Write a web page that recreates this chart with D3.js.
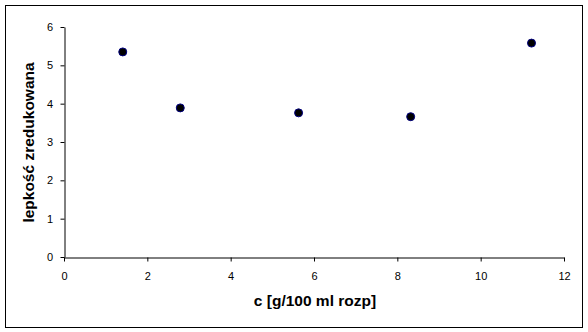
<!DOCTYPE html>
<html><head><meta charset="utf-8">
<script src="https://cdn.jsdelivr.net/npm/d3@7"></script>
<style>body{margin:0;background:#fff}svg{display:block}</style>
</head><body>
<svg id="c" width="588" height="332"></svg>
<script>
const xValues = [1.41, 2.79, 5.63, 8.32, 11.22];
const yValues = [5.35, 3.89, 3.76, 3.66, 5.58];
const xTicks = [0, 2, 4, 6, 8, 10, 12];
const yTicks = [0, 1, 2, 3, 4, 5, 6];
const xTitle = "c [g/100 ml rozp]";
const yTitle = "lepkość zredukowana";

const svg = d3.select("#c");
svg.append("rect").attr("x", 5.5).attr("y", 5.5).attr("width", 577).attr("height", 322)
  .attr("fill", "#fff").attr("stroke", "#000").attr("stroke-width", 1);

const x = d3.scaleLinear().domain([0, 12]).range([64, 564]);
const y = d3.scaleLinear().domain([0, 6]).range([257, 27]);

const font = "Liberation Sans, Arial, sans-serif";

const xa = svg.append("g").attr("transform", "translate(0,257.5)")
  .call(d3.axisBottom(x).tickValues(xTicks).tickFormat(d3.format("d")).tickSize(4).tickPadding(11).tickSizeOuter(0));
const ya = svg.append("g").attr("transform", "translate(64.5,0)")
  .call(d3.axisLeft(y).tickValues(yTicks).tickFormat(d3.format("d")).tickSize(4).tickPadding(7.5).tickSizeOuter(0));
[xa, ya].forEach(a => {
  a.select(".domain").attr("stroke", "#000");
  a.selectAll(".tick line").attr("stroke", "#000");
  a.selectAll(".tick text").attr("font-family", font).attr("font-size", 11).attr("fill", "#000");
});

svg.append("g").selectAll("circle").data(xValues.map((v, i) => [v, yValues[i]]))
  .join("circle")
  .attr("cx", d => x(d[0])).attr("cy", d => y(d[1])).attr("r", 4)
  .attr("fill", "#000").attr("stroke", "#000080").attr("stroke-width", 1);

svg.append("text").attr("x", 315).attr("y", 305.5).attr("text-anchor", "middle")
  .attr("font-family", font).attr("font-weight", "bold").attr("font-size", 15.5)
  .text(xTitle);
svg.append("text").attr("transform", "translate(33.5,142.5) rotate(-90)").attr("text-anchor", "middle")
  .attr("font-family", font).attr("font-weight", "bold").attr("font-size", 15.5)
  .text(yTitle);
</script>
</body></html>
